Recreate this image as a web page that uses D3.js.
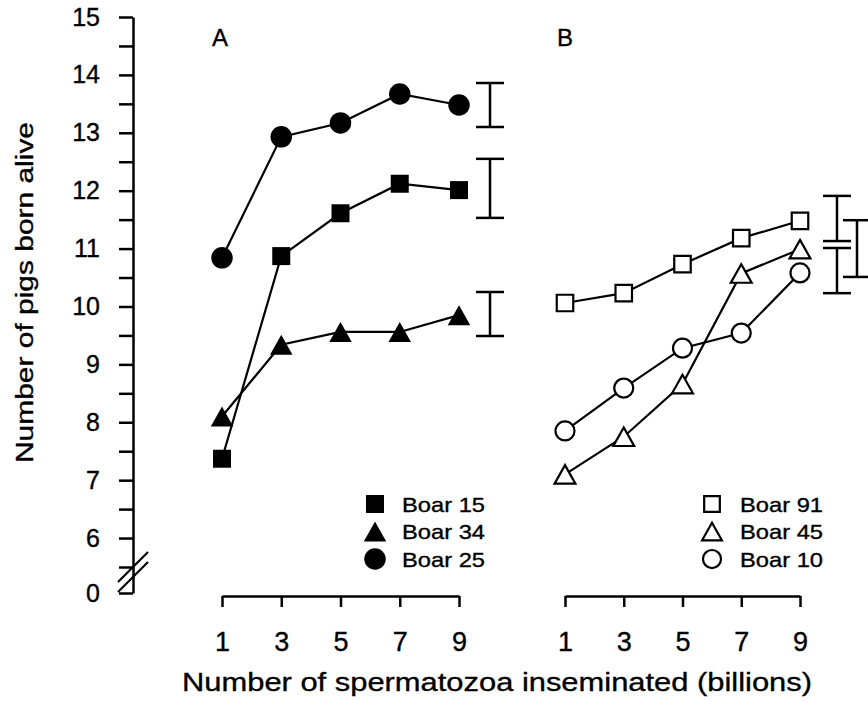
<!DOCTYPE html>
<html>
<head>
<meta charset="utf-8">
<script src="https://cdn.jsdelivr.net/npm/d3@7"></script>
<style>
  html, body { margin: 0; padding: 0; background: #fff; }
  svg { display: block; }
  text { font-family: "Liberation Sans", Arial, Helvetica, sans-serif; fill: #000; stroke: #000; stroke-width: 0.35px; }
</style>
</head>
<body>
<svg id="chart" width="868" height="702"></svg>
<script>
// ---------------- DATA ----------------
const doses = [1, 3, 5, 7, 9];            // billions of spermatozoa
const xTickLabels = ["1", "3", "5", "7", "9"];
const yTickValues = [0, 5.5, 6, 6.5, 7, 7.5, 8, 8.5, 9, 9.5, 10, 10.5, 11, 11.5, 12, 12.5, 13, 13.5, 14, 14.5, 15];
const yTickLabels = {0: "0", 6: "6", 7: "7", 8: "8", 9: "9", 10: "10", 11: "11", 12: "12", 13: "13", 14: "14", 15: "15"};

// Panel A
const boar15 = [7.37, 10.87, 11.61, 12.12, 12.01];
const boar34 = [8.10, 9.34, 9.56, 9.56, 9.85];
const boar25 = [10.84, 12.93, 13.17, 13.67, 13.48];
const errA = [[13.10, 13.86], [11.53, 12.55], [9.49, 10.25]];   // Boar 25, Boar 15, Boar 34

// Panel B
const boar91 = [10.06, 10.23, 10.73, 11.18, 11.48];
const boar45 = [7.10, 7.75, 8.66, 10.57, 10.99];
const boar10 = [7.85, 8.59, 9.28, 9.54, 10.58];
const errB = [[11.13, 11.91], [10.23, 11.01], [10.51, 11.49]];  // Boar 91, Boar 10, Boar 45

const panelLabels = ["A", "B"];
const xTitle = "Number of spermatozoa inseminated (billions)";
const yTitle = "Number of pigs born alive";

// ---------------- CHART ----------------
const svg = d3.select("#chart");
const FONT = '"Liberation Sans", Arial, Helvetica, sans-serif';

// broken y scale: 0 shown below a break, 6..15 linear
const y = d3.scaleLinear().domain([0, 5.5, 15]).range([593, 567, 17]);
const xA = d3.scaleLinear().domain([1, 9]).range([222, 459]);
const xB = d3.scaleLinear().domain([1, 9]).range([565, 800]);

// Y axis
const yAxis = d3.axisLeft(y)
  .tickValues(yTickValues)
  .tickSize(14)
  .tickSizeOuter(0)
  .tickPadding(19)
  .tickFormat(d => yTickLabels[d] !== undefined ? yTickLabels[d] : "");
const gy = svg.append("g").attr("transform", "translate(133,0)").call(yAxis);
gy.select(".domain").attr("stroke", "#000").attr("stroke-width", 2.5);
gy.selectAll(".tick line").attr("stroke", "#000").attr("stroke-width", 2.5);
gy.selectAll(".tick text").attr("font-size", 25).attr("font-family", FONT).attr("fill", "#000");

// axis break marks
const brk = svg.append("g").attr("stroke", "#000").attr("stroke-width", 2.2);
[0, 10].forEach(off => {
  brk.append("line")
    .attr("x1", 118).attr("y1", 582 + off)
    .attr("x2", 148).attr("y2", 552 + off);
});

// X axes
function xAxis(scale) {
  return d3.axisBottom(scale)
    .tickValues(doses)
    .tickSize(11)
    .tickSizeOuter(0)
    .tickPadding(25)
    .tickFormat((d, i) => xTickLabels[i]);
}
[xA, xB].forEach(sc => {
  const g = svg.append("g").attr("transform", "translate(0,596)").call(xAxis(sc));
  g.select(".domain").attr("stroke", "#000").attr("stroke-width", 2.5);
  g.selectAll(".tick line").attr("stroke", "#000").attr("stroke-width", 2.5);
  g.selectAll(".tick text").attr("font-size", 27).attr("font-family", FONT).attr("fill", "#000");
});

// titles
svg.append("text")
  .attr("x", 182).attr("y", 691)
  .attr("font-size", 26)
  .attr("textLength", 630).attr("lengthAdjust", "spacingAndGlyphs")
  .text(xTitle);
svg.append("text")
  .attr("transform", "translate(33,463) rotate(-90)")
  .attr("font-size", 23)
  .attr("textLength", 341).attr("lengthAdjust", "spacingAndGlyphs")
  .text(yTitle);

// panel labels
svg.append("text").attr("x", 212).attr("y", 46).attr("font-size", 24).text(panelLabels[0]);
svg.append("text").attr("x", 557).attr("y", 46).attr("font-size", 24).text(panelLabels[1]);

// marker drawing
const sym = {
  square: s => d3.symbol().type(d3.symbolSquare).size(s * s)(),
  circle: s => d3.symbol().type(d3.symbolCircle).size(Math.PI * (s / 2) * (s / 2))(),
};
function triPath(w, h) {
  return `M0,${-h / 2}L${w / 2},${h / 2}L${-w / 2},${h / 2}Z`;
}
function marker(g, shape, filled, size) {
  let p;
  if (shape === "triangle") p = g.append("path").attr("d", triPath(size * 1.07, size * 0.95));
  else p = g.append("path").attr("d", sym[shape](size));
  p.attr("fill", filled ? "#000" : "#fff")
   .attr("stroke", "#000")
   .attr("stroke-width", filled ? 0 : 2.2);
  return p;
}

const line = sc => d3.line().x((d, i) => sc(doses[i])).y(d => y(d));

function drawSeries(sc, vals, shape, filled, size) {
  svg.append("path")
    .datum(vals)
    .attr("d", line(sc))
    .attr("fill", "none")
    .attr("stroke", "#000")
    .attr("stroke-width", 2.2);
  return () => {
    vals.forEach((v, i) => {
      const g = svg.append("g").attr("transform", `translate(${sc(doses[i])},${y(v)})`);
      marker(g, shape, filled, size);
    });
  };
}

const seriesA = [
  {vals: boar15, shape: "square", size: 18, name: "Boar 15"},
  {vals: boar34, shape: "triangle", size: 21, name: "Boar 34"},
  {vals: boar25, shape: "circle", size: 21.5, name: "Boar 25"},
];
const seriesB = [
  {vals: boar91, shape: "square", size: 16.5, name: "Boar 91"},
  {vals: boar45, shape: "triangle", size: 19.5, name: "Boar 45"},
  {vals: boar10, shape: "circle", size: 19, name: "Boar 10"},
];

const markerFns = [];
seriesA.forEach(s => markerFns.push(drawSeries(xA, s.vals, s.shape, true, s.size)));
seriesB.forEach(s => markerFns.push(drawSeries(xB, s.vals, s.shape, false, s.size)));
markerFns.forEach(f => f());

// error bars
function errBar(x, lo, hi, capHalf) {
  const g = svg.append("g").attr("stroke", "#000").attr("stroke-width", 2.5);
  g.append("line").attr("x1", x).attr("x2", x).attr("y1", y(lo)).attr("y2", y(hi));
  g.append("line").attr("x1", x - capHalf).attr("x2", x + capHalf).attr("y1", y(lo)).attr("y2", y(lo));
  g.append("line").attr("x1", x - capHalf).attr("x2", x + capHalf).attr("y1", y(hi)).attr("y2", y(hi));
}
errA.forEach(e => errBar(xA(9) + 31, e[0], e[1], 14));
errBar(xB(9) + 37, errB[0][0], errB[0][1], 14);
errBar(xB(9) + 37, errB[1][0], errB[1][1], 14);
errBar(xB(9) + 57, errB[2][0], errB[2][1], 14);

// legends
function legend(series, mx, tx, filled) {
  const rows = [504, 531.5, 559];
  series.forEach((s, i) => {
    const g = svg.append("g").attr("transform", `translate(${mx},${rows[i]})`);
    const sz = filled ? s.size : s.size * 0.95;
    marker(g, s.shape, filled, sz);
    svg.append("text")
      .attr("x", tx).attr("y", rows[i] + 7.5)
      .attr("font-size", 21)
      .attr("textLength", 83).attr("lengthAdjust", "spacingAndGlyphs")
      .text(s.name);
  });
}
legend(seriesA, 375, 402, true);
legend(seriesB, 712, 740, false);
</script>
</body>
</html>
